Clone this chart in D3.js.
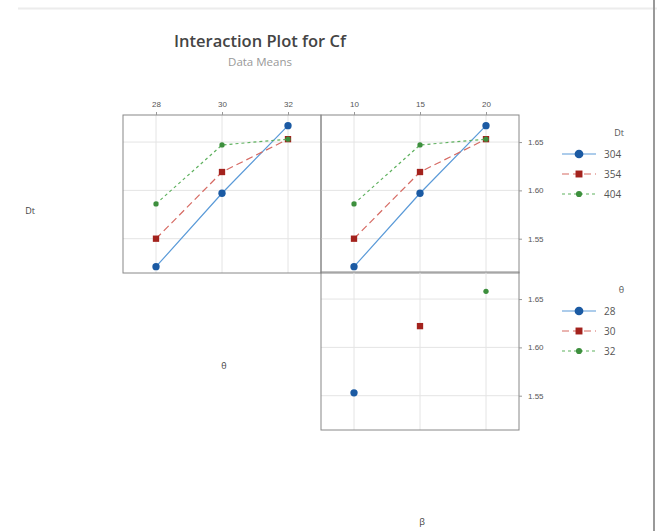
<!DOCTYPE html>
<html>
<head>
<meta charset="utf-8">
<script src="https://cdn.jsdelivr.net/npm/d3@7"></script>
<style>
  body { margin: 0; background: #fff; }
  svg { display: block; font-family: "Open Sans", "Noto Sans", sans-serif; }
  .tick text { fill: #555; font-size: 8px; }
  .grid line { stroke: #e4e4e4; }
</style>
</head>
<body>
<svg id="chart" width="657" height="531"></svg>
<script>
// factor levels
const dtLevels = ["304", "354", "404"];
const thetaLevels = [28, 30, 32];
const betaLevels = [10, 15, 20];

// means of Cf for each Dt level, by theta (the beta panel shows the same values)
const cfDt304 = [1.521, 1.597, 1.667];
const cfDt354 = [1.550, 1.619, 1.653];
const cfDt404 = [1.586, 1.647, 1.653];

// means of Cf for each theta level, by beta (only one cell each)
const cfTheta28 = [1.553, null, null];
const cfTheta30 = [null, 1.622, null];
const cfTheta32 = [null, null, 1.658];

const yTicks = [1.55, 1.60, 1.65];

const styles = [
  {fill: "#1b5aa3", stroke: "#5a9ad8", dash: null, shape: d3.symbolCircle, size: 42},
  {fill: "#a3221d", stroke: "#d66a63", dash: "7,4", shape: d3.symbolSquare, size: 40},
  {fill: "#3d8f3d", stroke: "#5fb15f", dash: "3,3", shape: d3.symbolCircle, size: 22}
];

const svg = d3.select("#chart");

// frame lines
svg.append("line").attr("x1", 18).attr("x2", 657).attr("y1", 8.5).attr("y2", 8.5)
  .attr("stroke", "#ececec").attr("stroke-width", 2);
svg.append("line").attr("x1", 654).attr("x2", 654).attr("y1", 0).attr("y2", 531)
  .attr("stroke", "#999").attr("stroke-width", 2);

// titles
svg.append("text").attr("x", 260).attr("y", 47).attr("text-anchor", "middle")
  .attr("font-size", 16.5).attr("font-weight", 600).attr("fill", "#444").text("Interaction Plot for Cf");
svg.append("text").attr("x", 260).attr("y", 66).attr("text-anchor", "middle")
  .attr("font-size", 11.5).attr("fill", "#999").text("Data Means");

const colX = [123, 321];
const rowY = [115, 272];
const pw = 198, ph = 158;

const y = d3.scaleLinear().domain([1.5145, 1.678]).range([ph, 0]);

function panel(px, py, levels, series, showTopAxis) {
  const g = svg.append("g").attr("transform", `translate(${px},${py})`);
  const x = d3.scalePoint().domain(levels).range([0, pw]).padding(0.5);

  const grid = g.append("g").attr("class", "grid");
  grid.selectAll(".v").data(levels).join("line")
    .attr("x1", d => x(d)).attr("x2", d => x(d)).attr("y1", 0).attr("y2", ph);
  grid.selectAll(".h").data(yTicks).join("line")
    .attr("x1", 0).attr("x2", pw).attr("y1", d => y(d)).attr("y2", d => y(d));

  series.forEach((vals, i) => {
    const st = styles[i];
    const pts = levels.map((l, j) => [l, vals[j]]).filter(p => p[1] != null);
    g.append("path")
      .attr("d", d3.line().x(p => x(p[0])).y(p => y(p[1]))(pts))
      .attr("fill", "none").attr("stroke", st.stroke).attr("stroke-width", 1.2)
      .attr("stroke-dasharray", st.dash);
    g.selectAll(null).data(pts).join("path")
      .attr("transform", p => `translate(${x(p[0])},${y(p[1])})`)
      .attr("d", d3.symbol().type(st.shape).size(st.size))
      .attr("fill", st.fill);
  });

  g.append("rect").attr("width", pw).attr("height", ph)
    .attr("fill", "none").attr("stroke", "#888").attr("stroke-width", 1);

  if (showTopAxis) {
    g.append("g").call(d3.axisTop(x).tickSize(3).tickPadding(5))
      .call(a => a.select(".domain").remove())
      .call(a => a.selectAll(".tick line").attr("stroke", "#999"));
  }
}

const dtSeries = [cfDt304, cfDt354, cfDt404];
const thetaSeries = [cfTheta28, cfTheta30, cfTheta32];

// top-left: Dt by theta
panel(colX[0], rowY[0], thetaLevels, dtSeries, true);
// top-right: Dt by beta
panel(colX[1], rowY[0], betaLevels, dtSeries, true);
// bottom-right: theta by beta
panel(colX[1], rowY[1], betaLevels, thetaSeries, false);

// right y axes
[rowY[0], rowY[1]].forEach(py => {
  svg.append("g").attr("transform", `translate(${colX[1] + pw},${py})`)
    .call(d3.axisRight(y).tickValues(yTicks).tickFormat(d3.format(".2f")).tickSize(3).tickPadding(6))
    .call(a => a.select(".domain").remove())
    .call(a => a.selectAll(".tick line").attr("stroke", "#999"));
});

// factor labels
svg.append("text").attr("x", 30).attr("y", 214).attr("text-anchor", "middle")
  .attr("font-size", 9).attr("fill", "#444").text("Dt");
svg.append("text").attr("x", 224).attr("y", 369).attr("text-anchor", "middle")
  .attr("font-size", 9).attr("fill", "#444").text("θ");
svg.append("text").attr("x", 422).attr("y", 525).attr("text-anchor", "middle")
  .attr("font-size", 9).attr("fill", "#444").text("β");

// legends
function legend(ty, title, labels) {
  const lg = svg.append("g");
  lg.append("text").attr("x", 624).attr("y", ty).attr("text-anchor", "end")
    .attr("font-size", 9).attr("fill", "#555").text(title);
  labels.forEach((lab, i) => {
    const st = styles[i];
    const ly = ty + 18 + i * 20;
    lg.append("line").attr("x1", 562).attr("x2", 596).attr("y1", ly).attr("y2", ly)
      .attr("stroke", st.stroke).attr("stroke-width", 1.2).attr("stroke-dasharray", st.dash);
    lg.append("path").attr("transform", `translate(579,${ly})`)
      .attr("d", d3.symbol().type(st.shape).size(i === 0 ? 60 : st.size + 8))
      .attr("fill", st.fill);
    lg.append("text").attr("x", 604).attr("y", ly + 4)
      .attr("font-size", 10).attr("fill", "#555").text(lab);
  });
}
legend(136, "Dt", dtLevels);
legend(293, "θ", thetaLevels.map(String));
</script>
</body>
</html>
